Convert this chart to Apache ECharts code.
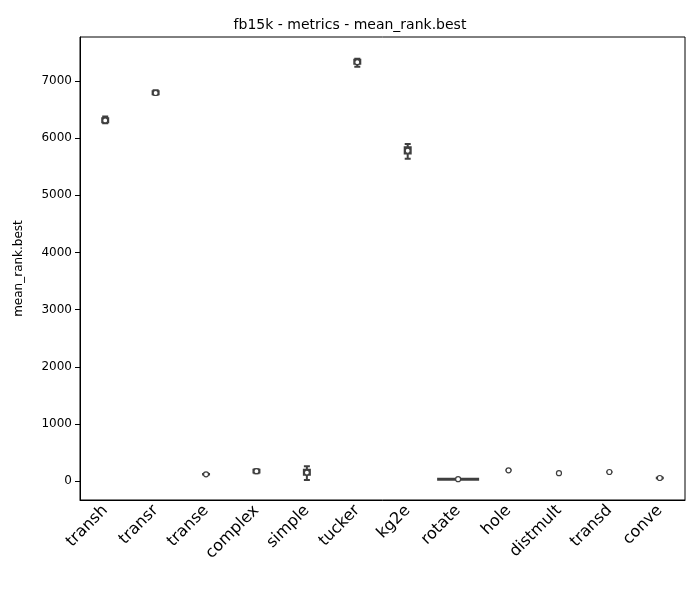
<!DOCTYPE html><html><head><meta charset="utf-8"><script src="https://cdn.jsdelivr.net/npm/echarts@6/dist/echarts.min.js"></script></head><body style="margin:0"><div id="c" style="width:700px;height:600px"></div><script>
const categories=['transh','transr','transe','complex','simple','tucker','kg2e','rotate','hole','distmult','transd','conve'];
const minVals=[6260,6760,110,140,20,7250,5640,35,190,140,160,40];
const q1Vals=[6280,6770,115,150,110,7300,5730,35,190,140,160,50];
const medians=[6310,6790,120,175,150,7330,5780,35,190,140,160,55];
const q3Vals=[6350,6820,125,200,200,7370,5840,35,190,140,160,60];
const maxVals=[6380,6840,130,210,260,7390,5900,35,190,140,160,70];
const yTicks=[0,1000,2000,3000,4000,5000,6000,7000];
const wideCats=['rotate'];
const c=echarts.init(document.getElementById('c'));
c.setOption({animation:false,
title:{text:'fb15k - metrics - mean_rank.best',left:'center',top:13,textStyle:{fontSize:14,fontWeight:'normal',color:'#000',fontFamily:'DejaVu Sans'}},
grid:{left:80,right:15,top:37,bottom:100,show:true,borderColor:'#000',borderWidth:1},
xAxis:{type:'category',data:categories,boundaryGap:true,axisLine:{onZero:false,lineStyle:{color:'#000'}},axisTick:{alignWithLabel:true,length:5,lineStyle:{color:'#000'}},
 axisLabel:{rotate:45,fontSize:16,color:'#000',fontFamily:'DejaVu Sans',interval:0,margin:8}},
yAxis:{type:'value',min:-330,max:7770,name:'mean_rank.best',nameLocation:'middle',nameGap:55,nameTextStyle:{fontSize:12,color:'#000',fontFamily:'DejaVu Sans'},
 splitLine:{show:false},axisLine:{show:true,lineStyle:{color:'#000'}},
 axisTick:{show:true,length:5,customValues:yTicks,lineStyle:{color:'#000'}},
 axisLabel:{customValues:yTicks,formatter:v=>String(v),color:'#000',fontSize:12,fontFamily:'DejaVu Sans'}},
series:[
{type:'boxplot',data:categories.map((_,i)=>[minVals[i],q1Vals[i],medians[i],q3Vals[i],maxVals[i]]),boxWidth:[6,6],
 itemStyle:{color:'#3f3f3f',borderColor:'#3f3f3f',borderWidth:2,opacity:1}},
{type:'scatter',data:categories.map((c,i)=>wideCats.includes(c)?[c,medians[i]]:null).filter(Boolean),symbol:'rect',symbolSize:[42,3],itemStyle:{color:'#3f3f3f',opacity:1},z:3},
{type:'scatter',data:categories.map((c,i)=>[c,medians[i]]),symbolSize:5,itemStyle:{color:'#fff',borderColor:'#3f3f3f',borderWidth:1.2,opacity:1},z:5}
]});
</script></body></html>
